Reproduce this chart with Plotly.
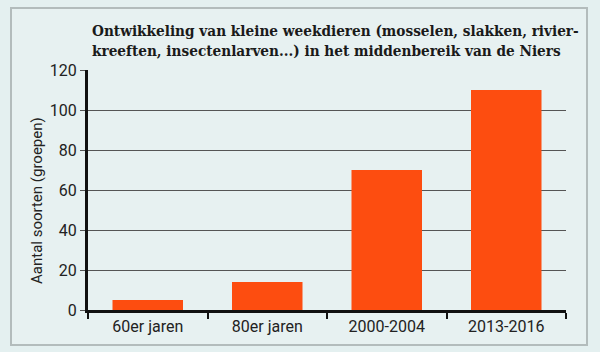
import plotly.graph_objects as go

categories = ["60er jaren", "80er jaren", "2000-2004", "2013-2016"]
values = [5, 14, 70, 110]
y_ticks = [0, 20, 40, 60, 80, 100, 120]

title_text = ("Ontwikkeling van kleine weekdieren (mosselen, slakken, rivier-<br>"
              "kreeften, insectenlarven...) in het middenbereik van de Niers")
y_title = "Aantal soorten (groepen)"

L, R, T, B = 88, 34, 70, 42
PW, PH = 600 - L - R, 352 - T - B

def px(x):
    return (x - L) / PW

def py(y):
    return (352 - B - y) / PH

fig = go.Figure(go.Bar(
    x=categories, y=values, marker=dict(color="#fd4d10", line=dict(width=0)),
    width=0.59,
))

fig.update_layout(
    width=600, height=352,
    margin=dict(l=L, r=R, t=T, b=B),
    paper_bgcolor="#e4f0f0",
    plot_bgcolor="rgba(0,0,0,0)",
    showlegend=False,
    font=dict(family="Roboto", size=14, color="#222222"),
    shapes=[dict(type="rect", xref="paper", yref="paper",
                 x0=px(11), x1=px(587), y0=py(345), y1=py(8),
                 line=dict(color="#b3bcbc", width=2), fillcolor="rgba(255,255,255,0.12)",
                 layer="below")],
    annotations=[
        dict(text=title_text, xref="paper", yref="paper", x=px(90), y=py(20),
             xanchor="left", yanchor="top", align="left", showarrow=False,
             font=dict(family="DejaVu Serif Condensed, Liberation Serif", size=15.2,
                       color="#1a1a1a", weight="bold")),
        dict(text=y_title, xref="paper", yref="paper", x=px(37), y=py(201),
             xanchor="center", yanchor="middle", textangle=-90, showarrow=False,
             font=dict(family="Roboto", size=15, color="#222222")),
    ],
)

fig.update_xaxes(
    range=[-0.5, 3.5], showline=True, linecolor="#111111", linewidth=3,
    ticks="outside", tickson="boundaries", ticklen=6, tickwidth=2, tickcolor="#111111",
    showgrid=False, tickfont=dict(family="Roboto", size=16, color="#222222"),
)
fig.update_yaxes(
    range=[0, 120], tickvals=y_ticks, showline=True, linecolor="#111111", linewidth=3,
    ticks="outside", ticklen=5, tickwidth=1, tickcolor="#555555",
    showgrid=True, gridcolor="#555555", gridwidth=1, zeroline=False,
    tickfont=dict(family="Roboto", size=16, color="#222222"),
)

fig.write_html("out.html")
